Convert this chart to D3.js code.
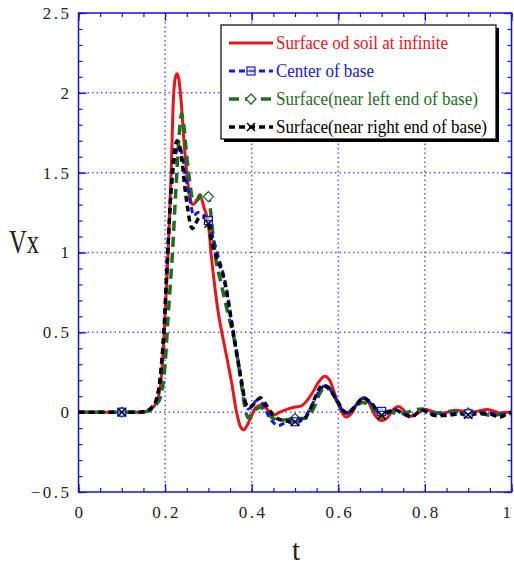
<!DOCTYPE html>
<html>
<head>
<meta charset="utf-8">
<script src="https://cdn.jsdelivr.net/npm/d3@7"></script>
<style>
  body { margin: 0; background: #fff; }
  svg { display: block; }
</style>
</head>
<body>
<div id="chart"></div>
<script>
// series data: [t, Vx]
var soilInfinite = [
	[0,0],[0.14,0],[0.155,0.005],[0.165,0.015],[0.175,0.04],[0.183,0.08],[0.19,0.18],
	[0.198,0.5],[0.207,1.0],[0.214,1.5],[0.219,1.95],[0.224,2.1],[0.228,2.12],[0.232,2.08],
	[0.237,1.95],[0.243,1.72],[0.25,1.5],[0.257,1.35],[0.264,1.30],[0.272,1.32],[0.28,1.36],
	[0.29,1.28],[0.30,1.18],[0.306,1.0],[0.315,0.78],[0.323,0.62],[0.331,0.5],[0.342,0.35],
	[0.354,0.18],[0.365,0.0],[0.374,-0.09],[0.381,-0.11],[0.388,-0.09],[0.396,-0.045],
	[0.41,0.03],[0.423,0.045],[0.435,0.02],[0.45,-0.02],[0.465,0.0],[0.481,0.018],[0.5,0.032],
	[0.515,0.04],[0.527,0.07],[0.54,0.12],[0.555,0.19],[0.569,0.225],[0.58,0.2],[0.595,0.09],
	[0.608,0.0],[0.619,-0.03],[0.63,-0.01],[0.645,0.06],[0.658,0.085],[0.67,0.06],[0.685,-0.02],
	[0.70,-0.053],[0.715,-0.03],[0.728,0.02],[0.739,0.036],[0.752,0.01],[0.766,-0.026],
	[0.783,-0.005],[0.80,0.016],[0.818,0.005],[0.835,-0.01],[0.852,0.0],[0.87,0.012],
	[0.885,0.008],[0.90,0.0],[0.92,0.005],[0.943,0.016],[0.96,0.006],[0.973,-0.005],[0.99,0.0],[1.0,0.0]
];
var baseCenter = [
	[0,0],[0.14,0],[0.16,0.01],[0.172,0.04],[0.18,0.08],[0.188,0.2],[0.197,0.5],[0.206,1.0],
	[0.214,1.38],[0.222,1.58],[0.229,1.65],[0.234,1.66],[0.24,1.6],[0.247,1.48],[0.254,1.38],
	[0.26,1.29],[0.266,1.23],[0.275,1.25],[0.285,1.24],[0.30,1.2],[0.31,1.1],[0.32,1.0],
	[0.34,0.8],[0.358,0.5],[0.378,0.18],[0.386,0.06],[0.392,0.02],[0.403,0.05],[0.415,0.08],
	[0.428,0.04],[0.44,-0.03],[0.452,-0.07],[0.461,-0.085],[0.475,-0.07],[0.5,-0.06],
	[0.515,-0.045],[0.528,-0.01],[0.54,0.05],[0.553,0.12],[0.57,0.165],[0.585,0.13],[0.6,0.05],
	[0.615,0.0],[0.623,-0.005],[0.64,0.04],[0.658,0.09],[0.675,0.055],[0.69,0.01],[0.70,0.005],
	[0.715,0.005],[0.73,0.015],[0.75,-0.01],[0.77,-0.025],[0.785,0.0],[0.796,0.012],[0.81,-0.005],
	[0.83,-0.015],[0.86,-0.01],[0.88,-0.005],[0.9,-0.01],[0.93,0.0],[0.96,-0.01],[0.98,-0.015],[1.0,-0.01]
];
var leftEnd = [
	[0,0],[0.145,0],[0.16,0.005],[0.17,0.02],[0.18,0.05],[0.19,0.1],[0.2,0.3],[0.207,0.6],
	[0.217,1.0],[0.225,1.4],[0.232,1.72],[0.238,1.87],[0.243,1.8],[0.25,1.6],[0.258,1.42],
	[0.265,1.32],[0.275,1.33],[0.288,1.38],[0.30,1.35],[0.308,1.18],[0.315,1.0],[0.33,0.8],
	[0.345,0.62],[0.36,0.45],[0.375,0.2],[0.383,0.05],[0.392,-0.036],[0.40,-0.01],[0.41,0.02],
	[0.42,0.03],[0.435,0.0],[0.45,-0.04],[0.47,-0.05],[0.5,-0.04],[0.52,-0.04],[0.532,-0.02],
	[0.546,0.04],[0.556,0.11],[0.572,0.165],[0.59,0.11],[0.605,0.03],[0.62,-0.005],[0.64,0.04],
	[0.658,0.06],[0.68,0.02],[0.70,-0.01],[0.72,0.0],[0.74,-0.01],[0.76,0.0],[0.778,0.015],
	[0.793,0.02],[0.81,0.005],[0.83,-0.005],[0.86,0.005],[0.88,0.0],[0.9,-0.005],[0.92,0.005],
	[0.95,-0.02],[0.97,-0.015],[1.0,0.0]
];
var rightEnd = [
	[0,0],[0.14,0],[0.16,0.01],[0.172,0.04],[0.18,0.08],[0.188,0.2],[0.197,0.5],[0.206,1.0],
	[0.214,1.4],[0.221,1.62],[0.228,1.70],[0.234,1.66],[0.24,1.55],[0.246,1.40],[0.252,1.28],
	[0.258,1.18],[0.263,1.15],[0.27,1.18],[0.28,1.22],[0.29,1.22],[0.30,1.18],[0.308,1.06],
	[0.315,1.0],[0.338,0.81],[0.357,0.5],[0.377,0.18],[0.385,0.06],[0.395,0.03],[0.408,0.06],
	[0.42,0.09],[0.432,0.05],[0.45,-0.02],[0.47,-0.05],[0.5,-0.06],[0.519,-0.047],[0.535,0.016],
	[0.546,0.09],[0.565,0.17],[0.58,0.14],[0.6,0.06],[0.615,0.0],[0.623,-0.005],[0.64,0.04],
	[0.658,0.09],[0.675,0.06],[0.69,0.01],[0.70,-0.02],[0.715,0.0],[0.73,0.015],[0.75,-0.01],
	[0.77,-0.03],[0.785,0.0],[0.796,0.012],[0.81,-0.01],[0.83,-0.022],[0.858,-0.018],[0.88,-0.01],
	[0.9,-0.016],[0.923,-0.01],[0.95,-0.012],[0.973,-0.03],[0.99,-0.01],[1.0,0.0]
];

var seriesNames = [
	"Surface od soil at infinite",
	"Center of base",
	"Surface(near left end of base)",
	"Surface(near right end of base)"
];
var markerTimes = [0.1, 0.3, 0.5, 0.7, 0.9];
var xTicks = [0, 0.2, 0.4, 0.6, 0.8, 1];
var yTicks = [-0.5, 0, 0.5, 1, 1.5, 2, 2.5];

var W = 514, H = 565;
var svg = d3.select("#chart").append("svg")
	.attr("width", W).attr("height", H);

var x = d3.scaleLinear().domain([0, 1]).range([78.5, 511.5]);
var y = d3.scaleLinear().domain([-0.5, 2.5]).range([492, 13]);

var axisBlue = "#1010ee";
var labelFont = "'Liberation Serif', 'DejaVu Serif', serif";

// grid
var grid = svg.append("g").attr("class", "grid")
	.attr("stroke", "#5a5af0").attr("stroke-width", 1.5)
	.attr("stroke-dasharray", "1.5,3");
grid.selectAll(".gx").data(xTicks.slice(1, -1)).enter().append("line")
	.attr("x1", function(d) { return x(d); }).attr("x2", function(d) { return x(d); })
	.attr("y1", y(2.5)).attr("y2", y(-0.5));
grid.selectAll(".gy").data(yTicks.slice(1, -1)).enter().append("line")
	.attr("y1", function(d) { return y(d); }).attr("y2", function(d) { return y(d); })
	.attr("x1", x(0)).attr("x2", x(1));

// minor ticks via d3 axes, ticks pointing inward
var xMinor = d3.range(0, 1.0001, 0.05);
var yMinor = d3.range(-0.5, 2.5001, 0.1);

function styleAxis(g) {
	g.select(".domain").remove();
	g.selectAll(".tick line").attr("stroke", axisBlue).attr("stroke-width", 1.2);
}

svg.append("g").attr("transform", "translate(0," + y(-0.5) + ")")
	.call(d3.axisBottom(x).tickValues(xMinor).tickSize(-4).tickFormat(""))
	.call(styleAxis);
svg.append("g").attr("transform", "translate(0," + y(2.5) + ")")
	.call(d3.axisTop(x).tickValues(xMinor).tickSize(-4).tickFormat(""))
	.call(styleAxis);
svg.append("g").attr("transform", "translate(" + x(0) + ",0)")
	.call(d3.axisLeft(y).tickValues(yMinor).tickSize(-4).tickFormat(""))
	.call(styleAxis);
svg.append("g").attr("transform", "translate(" + x(1) + ",0)")
	.call(d3.axisRight(y).tickValues(yMinor).tickSize(-4).tickFormat(""))
	.call(styleAxis);

// major ticks + labels
var fmt = d3.format("");
var xAxisG = svg.append("g").attr("transform", "translate(0," + y(-0.5) + ")")
	.call(d3.axisBottom(x).tickValues(xTicks).tickSize(-8).tickPadding(14).tickFormat(fmt))
	.call(styleAxis);
svg.append("g").attr("transform", "translate(0," + y(2.5) + ")")
	.call(d3.axisTop(x).tickValues(xTicks).tickSize(-8).tickFormat(""))
	.call(styleAxis);
var yAxisG = svg.append("g").attr("transform", "translate(" + x(0) + ",0)")
	.call(d3.axisLeft(y).tickValues(yTicks).tickSize(-8).tickPadding(7).tickFormat(fmt))
	.call(styleAxis);
svg.append("g").attr("transform", "translate(" + x(1) + ",0)")
	.call(d3.axisRight(y).tickValues(yTicks).tickSize(-8).tickFormat(""))
	.call(styleAxis);

[xAxisG, yAxisG].forEach(function(g) {
	g.selectAll("text")
		.attr("font-family", labelFont)
		.attr("font-size", 17)
		.attr("fill", "#222")
		.style("letter-spacing", "2.5px");
});
xAxisG.selectAll("text").attr("dx", function(d) { return d === 1 ? "-4px" : "1px"; });

// frame
svg.append("rect")
	.attr("x", x(0)).attr("y", y(2.5))
	.attr("width", x(1) - x(0)).attr("height", y(-0.5) - y(2.5))
	.attr("fill", "none").attr("stroke", axisBlue).attr("stroke-width", 1.5);

// axis titles
svg.append("text").text("Vx")
	.attr("x", 9).attr("y", 253)
	.attr("font-family", labelFont).attr("font-size", 33)
	.attr("textLength", 30).attr("lengthAdjust", "spacingAndGlyphs")
	.attr("fill", "#222");
svg.append("text").text("t")
	.attr("x", 296).attr("y", 560).attr("text-anchor", "middle")
	.attr("font-family", labelFont).attr("font-size", 29)
	.attr("fill", "#222");

// curves
var series = [
	{ name: seriesNames[0], data: soilInfinite, color: "#e8141b", width: 3, dash: null, marker: null },
	{ name: seriesNames[2], data: leftEnd, color: "#1d6e1d", width: 3.5, dash: "10,6", marker: "diamond" },
	{ name: seriesNames[1], data: baseCenter, color: "#1515e6", width: 3, dash: "6,4", marker: "square" },
	{ name: seriesNames[3], data: rightEnd, color: "#000000", width: 3.5, dash: "6,4", marker: "cross" }
];

var line = d3.line()
	.x(function(d) { return x(d[0]); })
	.y(function(d) { return y(d[1]); })
	.curve(d3.curveMonotoneX);

var plot = svg.append("g");
series.forEach(function(s) {
	plot.append("path").datum(s.data)
		.attr("fill", "none")
		.attr("stroke", s.color)
		.attr("stroke-width", s.width)
		.attr("stroke-dasharray", s.dash)
		.attr("stroke-linejoin", "round")
		.attr("d", line);
});

function valueAt(data, t) {
	var i = d3.bisector(function(d) { return d[0]; }).left(data, t);
	if (i <= 0) return data[0][1];
	if (i >= data.length) return data[data.length - 1][1];
	var a = data[i - 1], b = data[i];
	return a[1] + (b[1] - a[1]) * (t - a[0]) / (b[0] - a[0]);
}

function drawMarker(g, type, cx, cy, color) {
	if (type === "square") {
		g.append("rect").attr("x", cx - 4).attr("y", cy - 4).attr("width", 8).attr("height", 8)
			.attr("fill", "#fff").attr("fill-opacity", 0.6).attr("stroke", color).attr("stroke-width", 1.2);
		g.append("line").attr("x1", cx - 4).attr("x2", cx + 4).attr("y1", cy).attr("y2", cy)
			.attr("stroke", color).attr("stroke-width", 1);
	} else if (type === "diamond") {
		g.append("path")
			.attr("d", "M" + cx + "," + (cy - 5) + "L" + (cx + 5) + "," + cy + "L" + cx + "," + (cy + 5) + "L" + (cx - 5) + "," + cy + "Z")
			.attr("fill", "#fff").attr("stroke", color).attr("stroke-width", 1.3);
	} else if (type === "cross") {
		g.append("path")
			.attr("d", "M" + (cx - 4) + "," + (cy - 4) + "L" + (cx + 4) + "," + (cy + 4) + "M" + (cx + 4) + "," + (cy - 4) + "L" + (cx - 4) + "," + (cy + 4))
			.attr("stroke", color).attr("stroke-width", 1.5);
	}
}

var markG = svg.append("g");
series.forEach(function(s) {
	if (!s.marker) return;
	markerTimes.forEach(function(t) {
		drawMarker(markG, s.marker, x(t), y(valueAt(s.data, t)), s.color);
	});
});

// legend
var lg = svg.append("g");
lg.append("rect").attr("x", 224).attr("y", 28).attr("width", 275).attr("height", 114).attr("fill", "#000");
lg.append("rect").attr("x", 221).attr("y", 25).attr("width", 275).attr("height", 114)
	.attr("fill", "#fff").attr("stroke", "#000").attr("stroke-width", 1.2);

var legendOrder = [series[0], series[2], series[1], series[3]];
var legendWidths = [172, 98, 202, 211];
legendOrder.forEach(function(s, i) {
	var ly = 43 + i * 28;
	lg.append("line")
		.attr("x1", 229).attr("x2", 273).attr("y1", ly).attr("y2", ly)
		.attr("stroke", s.color).attr("stroke-width", s.width)
		.attr("stroke-dasharray", s.dash);
	if (s.marker) drawMarker(lg, s.marker, 251, ly, s.color);
	lg.append("text").text(s.name)
		.attr("x", 276).attr("y", ly + 6)
		.attr("font-family", labelFont).attr("font-size", 19)
		.attr("textLength", legendWidths[i]).attr("lengthAdjust", "spacingAndGlyphs")
		.attr("fill", s.color === "#000000" ? "#000" : s.color);
});
</script>
</body>
</html>
